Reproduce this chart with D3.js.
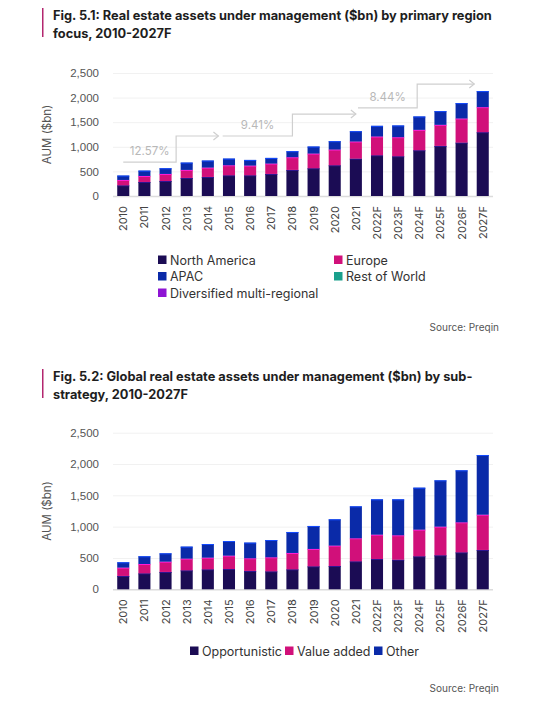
<!DOCTYPE html>
<html>
<head>
<meta charset="utf-8">
<style>
  body { margin: 0; background: #fff; font-family: Inter, "Noto Sans", sans-serif; }
  svg { display: block; }
  .title { font-weight: 700; font-size: 12.8px; fill: #1e1e1e; }
  .tick text { fill: #555; font-size: 11.5px; }
  .xlab { fill: #444; font-size: 11px; }
  .ylabel { fill: #555; font-size: 11.5px; }
  .legend text { fill: #333; font-size: 12.5px; }
  .source { fill: #555; font-size: 10px; }
  .cagr { fill: #b8b8b8; font-size: 11.5px; }
</style>
<script src="https://cdnjs.cloudflare.com/ajax/libs/d3/7.8.5/d3.min.js"></script>
</head>
<body>
<svg id="chart" width="554" height="705"></svg>
<script>
// ---- data ----
var years = ["2010","2011","2012","2013","2014","2015","2016","2017","2018","2019",
             "2020","2021","2022F","2023F","2024F","2025F","2026F","2027F"];

// Fig 5.1 by region
var northAmerica = [217,285,305,367,387,421,421,448,530,564,625,760,828,808,930,1018,1086,1297];
var europe       = [109,122,143,163,190,204,197,211,258,298,319,347,381,387,414,428,489,509];
var apac         = [ 89,109,116,149,143,135,115,115,122,143,170,210,217,238,272,279,313,326];
var restOfWorld  = [  0,  0,  0,  0,  0,  0,  0,  0,  0,  0,  0,  0,  0,  0,  0,  0,  0,  0];
var diversified  = [  0,  0,  0,  0,  0,  0,  0,  0,  0,  0,  0,  0,  0,  0,  0,  0,  0,  0];

// Fig 5.2 by strategy
var opportunistic = [213,255,277,303,319,324,293,287,319,367,372,447,484,473,527,543,590,628];
var valueAdded    = [133,149,164,186,186,213,202,224,261,277,325,367,388,389,425,457,479,563];
var other         = [ 85,123,133,192,218,234,250,276,335,367,420,510,564,574,670,739,830,953];

var yTicks = [0, 500, 1000, 1500, 2000, 2500];

// CAGR annotations: start / step / end (bar index), low and high level (AUM), label
var cagrFrom  = [0, 4.7, 11.1];
var cagrStep  = [2.5, 8, 13.9];
var cagrTo    = [4.5, 11, 16.6];
var cagrLow   = [690, 1220, 1790];
var cagrHigh  = [1220, 1665, 2275];
var cagrLabel = ["12.57%", "9.41%", "8.44%"];

var regionNames  = ["North America", "Europe", "APAC", "Rest of World", "Diversified multi-regional"];
var regionColors = ["#1b0c54", "#d1107a", "#0a2aa8", "#1aa08c", "#8e14d4"];
var strategyNames  = ["Opportunistic", "Value added", "Other"];
var strategyColors = ["#1b0c54", "#d1107a", "#0a2aa8"];

var svg = d3.select("#chart");

function drawTitle(lines, top) {
  svg.append("rect").attr("x", 42).attr("y", top - 4).attr("width", 1.5)
     .attr("height", 29).attr("fill", "#b3266f");
  lines.forEach(function (t, i) {
    svg.append("text").attr("class", "title").attr("x", 53).attr("y", top + 8 + i * 18).text(t);
  });
}

function drawBars(series, colors, y0, y1) {
  var x = d3.scaleBand().domain(years).range([113, 493]).paddingInner(0.43).paddingOuter(0.2);
  var y = d3.scaleLinear().domain([0, 2500]).range([y0, y1]);
  var g = svg.append("g");

  // gridlines + tick labels
  var axis = d3.axisLeft(y).tickValues(yTicks).tickSize(-380).tickFormat(d3.format(","));
  var ag = g.append("g").attr("transform", "translate(113,0)").call(axis);
  ag.select(".domain").remove();
  ag.selectAll(".tick line").attr("stroke", function (d) { return d === 0 ? "#dcdcdc" : "#f1f1f1"; })
    .attr("stroke-width", function (d) { return d === 0 ? 1.5 : 1; });
  ag.selectAll(".tick text").attr("x", -14);

  svg.append("text").attr("class", "ylabel")
     .attr("transform", "translate(51," + ((y0 + y1) / 2) + ") rotate(-90)")
     .attr("text-anchor", "middle").text("AUM ($bn)");

  var rows = years.map(function (yr, i) {
    var r = { year: yr };
    series.forEach(function (s, k) { r[k] = s[i]; });
    return r;
  });
  var stack = d3.stack().keys(series.map(function (s, k) { return k; }))(rows);

  stack.forEach(function (layer, k) {
    var lg = g.append("g");
    lg.selectAll("rect").data(layer).enter().append("rect")
      .attr("x", function (d) { return x(d.data.year); })
      .attr("width", x.bandwidth())
      .attr("y", function (d) { return y(d[1]); })
      .attr("height", function (d) { return y(d[0]) - y(d[1]); })
      .attr("fill", colors[k]);
    lg.selectAll("line").data(layer.filter(function (d) { return d[1] > d[0]; })).enter().append("line")
      .attr("x1", function (d) { return x(d.data.year); })
      .attr("x2", function (d) { return x(d.data.year) + x.bandwidth(); })
      .attr("y1", function (d) { return y(d[1]) + 0.5; })
      .attr("y2", function (d) { return y(d[1]) + 0.5; })
      .attr("stroke", d3.color(colors[k]).brighter(1.6))
      .attr("stroke-width", 1);
  });

  // x labels
  g.selectAll("text.xlab").data(years).enter().append("text")
    .attr("class", "xlab")
    .attr("transform", function (d) {
      return "translate(" + (x(d) + x.bandwidth() / 2 + 4) + "," + (y0 + 10) + ") rotate(-90)";
    })
    .attr("text-anchor", "end").text(function (d) { return d; });

  return { x: x, y: y };
}

function drawSource(yPos) {
  svg.append("text").attr("class", "source").attr("x", 499).attr("y", yPos)
     .attr("text-anchor", "end").text("Source: Preqin");
}

// ---- Fig 5.1 ----
drawTitle(["Fig. 5.1: Real estate assets under management ($bn) by primary region",
           "focus, 2010-2027F"], 12);
var s1 = drawBars([northAmerica, europe, apac, restOfWorld, diversified], regionColors, 196, 73);

// CAGR arrows
var xi = function (i) { return s1.x(years[0]) + s1.x.bandwidth() / 2 + i * s1.x.step(); };
var ag1 = svg.append("g");
cagrLabel.forEach(function (lab, i) {
  var xa = xi(cagrFrom[i]), xb = xi(cagrStep[i]), xc = xi(cagrTo[i]);
  var ya = s1.y(cagrLow[i]), yb = s1.y(cagrHigh[i]);
  ag1.append("path")
     .attr("d", "M" + xa + "," + ya + "H" + xb + "V" + yb + "H" + xc)
     .attr("fill", "none").attr("stroke", "#cfcfcf").attr("stroke-width", 1.2);
  ag1.append("path")
     .attr("d", "M" + (xc - 5) + "," + (yb - 4) + "L" + xc + "," + yb + "L" + (xc - 5) + "," + (yb + 4))
     .attr("fill", "none").attr("stroke", "#cfcfcf").attr("stroke-width", 1.2);
  ag1.append("text").attr("class", "cagr")
     .attr("x", (xa + xb) / 2).attr("y", ya - 7)
     .attr("text-anchor", "middle").text(lab);
});

// legend 1
var leg1 = svg.append("g").attr("class", "legend");
regionNames.forEach(function (n, i) {
  var col = i % 2, row = Math.floor(i / 2);
  var lx = col === 0 ? 158 : 334, ly = 260 + row * 16.5;
  leg1.append("rect").attr("x", lx).attr("y", ly - 4.5).attr("width", 8.5).attr("height", 8.5)
      .attr("fill", regionColors[i]);
  leg1.append("text").attr("x", lx + 12).attr("y", ly + 4.5).text(n);
});
drawSource(331);

// ---- Fig 5.2 ----
drawTitle(["Fig. 5.2: Global real estate assets under management ($bn) by sub-",
           "strategy, 2010-2027F"], 373);
drawBars([opportunistic, valueAdded, other], strategyColors, 589.3, 432.7);

var leg2 = svg.append("g").attr("class", "legend");
var lxPos = [190, 285, 374];
strategyNames.forEach(function (n, i) {
  leg2.append("rect").attr("x", lxPos[i]).attr("y", 646.5).attr("width", 8.5).attr("height", 8.5)
      .attr("fill", strategyColors[i]);
  leg2.append("text").attr("x", lxPos[i] + 12).attr("y", 655.5).text(n);
});
drawSource(692);
</script>
</body>
</html>
